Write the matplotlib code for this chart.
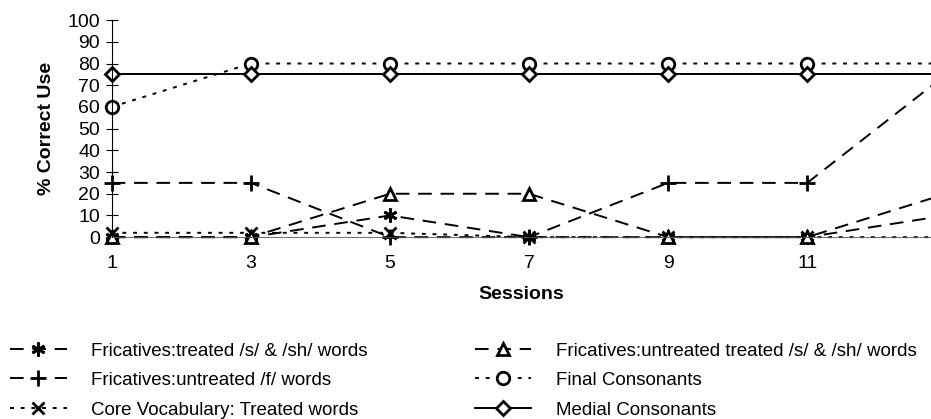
import matplotlib
matplotlib.use('Agg')
import matplotlib.pyplot as plt

plt.rcParams['font.family'] = ['Liberation Sans', 'DejaVu Sans']

# DATA
sessions = [1, 3, 5, 7, 9, 11, 13]
fric_treated = [0, 0, 10, 0, 0, 0, 10]
fric_untreated_f = [25, 25, 0, 0, 25, 25, 75]
core_vocab = [2, 2, 2, 0, 0, 0, 0]
fric_untreated_s = [0, 0, 20, 20, 0, 0, 20]
final_cons = [60, 80, 80, 80, 80, 80, 80]
medial_cons = [75, 75, 75, 75, 75, 75, 75]
x_ticks = [1, 3, 5, 7, 9, 11]
y_ticks = list(range(0, 101, 10))

fig = plt.figure(figsize=(9.31, 4.19), dpi=100)
ax = fig.add_axes([0.120, 0.434, 0.88, 0.518])

dash = (0, (7, 4.5))
dot = (0, (2, 3.5))
common = dict(color='black', lw=1.4, clip_on=False, markeredgewidth=2)

ax.plot(sessions, fric_treated, linestyle=dash, marker=(6, 2, 0), ms=10,
        label='Fricatives:treated /s/ & /sh/ words', **common)
ax.plot(sessions, fric_untreated_f, linestyle=dash, marker='+', ms=11,
        label='Fricatives:untreated /f/ words', **common)
ax.plot(sessions, core_vocab, linestyle=dot, marker='x', ms=9,
        label='Core Vocabulary: Treated words', **common)
ax.plot(sessions, fric_untreated_s, linestyle=dash, marker='^', ms=8,
        markerfacecolor='white',
        label='Fricatives:untreated treated /s/ & /sh/ words', **common)
ax.plot(sessions, final_cons, linestyle=dot, marker='o', ms=9,
        markerfacecolor='white', label='Final Consonants', **common)
ax.plot(sessions, medial_cons, linestyle='-', marker='D', ms=7,
        markerfacecolor='white', label='Medial Consonants', **common)

ax.set_xlim(1, 12.78)
ax.set_ylim(0, 100)
ax.set_xticks(x_ticks)
ax.set_yticks(y_ticks)
ax.tick_params(axis='y', direction='inout', length=9, width=0.8, labelsize=14, pad=4)
ax.tick_params(axis='x', length=0, labelsize=14, pad=13)

for s in ['top', 'right']:
    ax.spines[s].set_visible(False)
ax.spines['left'].set_linewidth(0.8)
ax.spines['bottom'].set_linewidth(0.6)
ax.spines['bottom'].set_color('#555555')

ax.set_xlabel('Sessions', fontsize=14, fontweight='bold', labelpad=10)
ax.set_ylabel('% Correct Use', fontsize=14, fontweight='bold', labelpad=9)

fig.legend(loc='lower left', bbox_to_anchor=(0.006, -0.01), ncol=2, frameon=False,
           fontsize=13.5, handlelength=3.0, handletextpad=1.3, columnspacing=5.75,
           labelspacing=0.66, borderaxespad=0.0, borderpad=0.25)

fig.savefig('out.png', dpi=100)
